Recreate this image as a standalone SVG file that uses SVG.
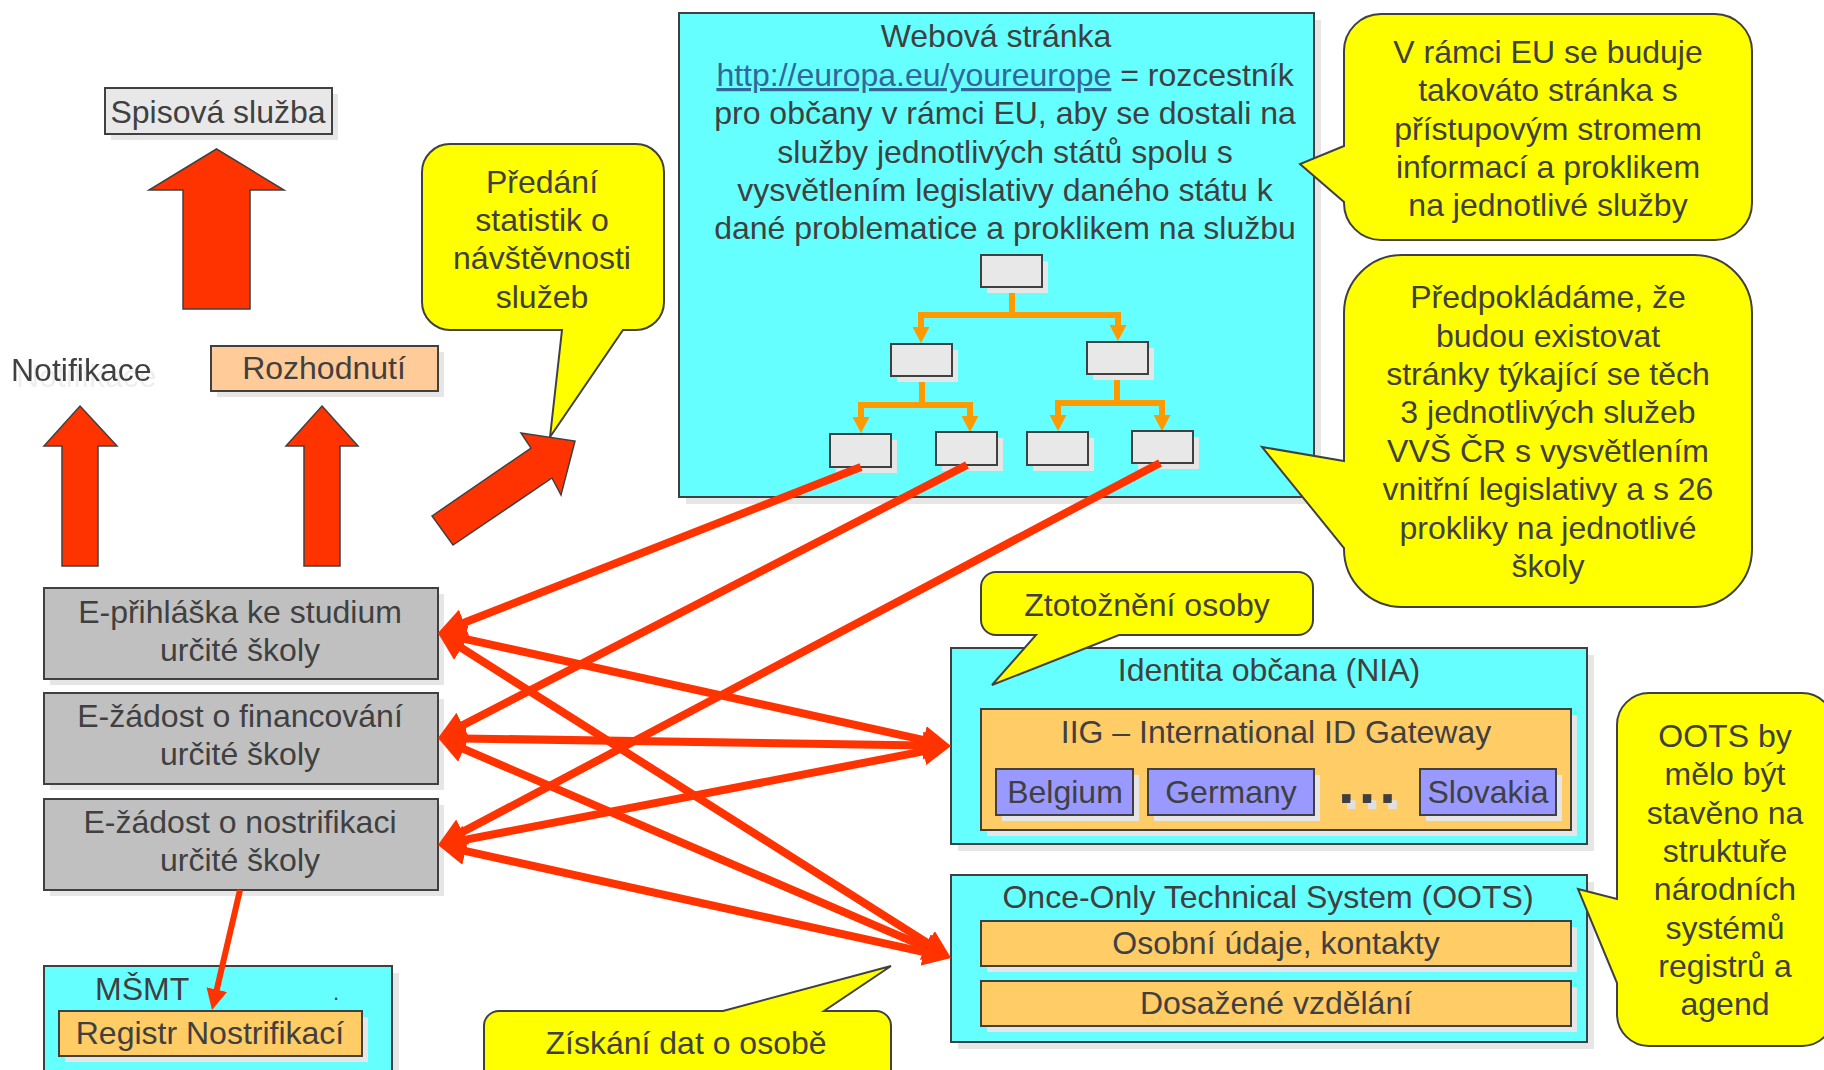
<svg xmlns="http://www.w3.org/2000/svg" width="1824" height="1070" viewBox="0 0 1824 1070">
<style>
.t{font-family:"Liberation Sans",Arial,sans-serif;font-size:32px;fill:#404040}
.c{text-anchor:middle}
.box{stroke:#404040;stroke-width:2}
.sh{fill:#E6E6E6}
.cyan{fill:#66FFFF}
.gray{fill:#C0C0C0}
.lg{fill:#E8E8E8}
.org{fill:#FFCC66}
.peach{fill:#FFCC99}
.blue{fill:#9999FF}
.call{fill:#FFFF00;stroke:#404040;stroke-width:2}
.barrow{fill:#FF3300;stroke:#404040;stroke-width:1.5}
.red{stroke:#FF3300;stroke-width:8;fill:none}
.or{stroke:#FF9900;stroke-width:6;fill:none}
.link{fill:#336699;text-decoration:underline}
</style>
<defs>
<marker id="rh" viewBox="0 0 28 28" markerUnits="strokeWidth" markerWidth="3.5" markerHeight="3.5" refX="18" refY="14" orient="auto-start-reverse">
<path d="M0,0 L28,14 L0,28 Z" fill="#FF3300"/>
</marker>
<marker id="oh" viewBox="0 0 16 17" markerUnits="userSpaceOnUse" markerWidth="16" markerHeight="17" refX="6" refY="8.5" orient="auto-start-reverse">
<path d="M0,0 L16,8.5 L0,17 Z" fill="#FF9900"/>
</marker>
<filter id="ds" x="-10%" y="-10%" width="130%" height="140%">
<feOffset in="SourceAlpha" dx="5" dy="6" result="o"/>
<feFlood flood-color="#E0E0E0"/>
<feComposite in2="o" operator="in" result="s"/>
<feMerge><feMergeNode in="s"/><feMergeNode in="SourceGraphic"/></feMerge>
</filter>
<filter id="ds2" x="-10%" y="-10%" width="130%" height="140%">
<feOffset in="SourceAlpha" dx="5" dy="6" result="o"/>
<feFlood flood-color="#EEEEEE"/>
<feComposite in2="o" operator="in" result="s"/>
<feMerge><feMergeNode in="s"/><feMergeNode in="SourceGraphic"/></feMerge>
</filter>
</defs>
<rect width="1824" height="1070" fill="#FFFFFF"/>

<g id="spisova">
<rect class="sh" x="111" y="94" width="227" height="46"/>
<rect class="box lg" x="105" y="88" width="227" height="46"/>
<text class="t c" x="218" y="123">Spisová služba</text>
</g>
<g id="arrow-spisova">
<polygon class="barrow" points="216.5,149 284,190 250,190 250,309 183,309 183,190 149,190"/>
</g>
<g id="notifikace">
<text class="t" x="11" y="381" filter="url(#ds2)">Notifikace</text>
</g>
<g id="rozhodnuti">
<rect class="sh" x="217" y="352" width="227" height="45"/>
<rect class="box peach" x="211" y="346" width="227" height="45"/>
<text class="t c" x="324" y="379">Rozhodnutí</text>
</g>
<g id="arrow-notifikace">
<polygon class="barrow" points="80,406 117,446 98,446 98,566 62,566 62,446 44,446"/>
</g>
<g id="arrow-rozhodnuti">
<polygon class="barrow" points="322,406 358,446 340,446 340,566 304,566 304,446 286,446"/>
</g>
<g id="arrow-statistiky">
<polygon class="barrow" points="432,516 531,448 521,433 575,441 561,495 552,478 453,545"/>
</g>

<g id="webova">
<rect class="sh" x="686" y="20" width="635" height="484"/>
<rect class="box cyan" x="679" y="13" width="635" height="484"/>
<text class="t c" x="996" y="47">Webová stránka</text>
<text class="t c" x="1005" y="86"><tspan class="link">http://europa.eu/youreurope</tspan> = rozcestník</text>
<text class="t c" x="1005" y="124">pro občany v rámci EU, aby se dostali na</text>
<text class="t c" x="1005" y="163">služby jednotlivých států spolu s</text>
<text class="t c" x="1005" y="201">vysvětlením legislativy daného státu k</text>
<text class="t c" x="1005" y="239">dané problematice a proklikem na službu</text>
</g>

<g id="tree-connectors">
<path class="or" d="M1012,287 V315"/>
<path class="or" d="M921,333 V315 H1118 V331" marker-start="url(#oh)" marker-end="url(#oh)"/>
<path class="or" d="M922,376 V405"/>
<path class="or" d="M861,423 V405 H970 V422" marker-start="url(#oh)" marker-end="url(#oh)"/>
<path class="or" d="M1117,374 V403"/>
<path class="or" d="M1058,421 V403 H1162 V421" marker-start="url(#oh)" marker-end="url(#oh)"/>
</g>
<g id="tree-top">
<rect class="sh" x="987" y="261" width="61" height="32"/>
<rect class="box lg" x="981" y="255" width="61" height="32"/>
</g>
<g id="tree-mid-left">
<rect class="sh" x="897" y="350" width="61" height="32"/>
<rect class="box lg" x="891" y="344" width="61" height="32"/>
</g>
<g id="tree-mid-right">
<rect class="sh" x="1093" y="348" width="61" height="32"/>
<rect class="box lg" x="1087" y="342" width="61" height="32"/>
</g>
<g id="tree-leaf-1">
<rect class="sh" x="836" y="440" width="61" height="33"/>
<rect class="box lg" x="830" y="434" width="61" height="33"/>
</g>
<g id="tree-leaf-2">
<rect class="sh" x="942" y="438" width="61" height="33"/>
<rect class="box lg" x="936" y="432" width="61" height="33"/>
</g>
<g id="tree-leaf-3">
<rect class="sh" x="1033" y="438" width="61" height="33"/>
<rect class="box lg" x="1027" y="432" width="61" height="33"/>
</g>
<g id="tree-leaf-4">
<rect class="sh" x="1138" y="437" width="61" height="32"/>
<rect class="box lg" x="1132" y="431" width="61" height="32"/>
</g>

<g id="callout-predani">
<path class="call" d="M450,144 H636 A28,28 0 0 1 664,172 V302 A28,28 0 0 1 636,330 H623 L550,437 L562,330 H450 A28,28 0 0 1 422,302 V172 A28,28 0 0 1 450,144 Z"/>
<text class="t c" x="542" y="193">Předání</text>
<text class="t c" x="542" y="231">statistik o</text>
<text class="t c" x="542" y="269">návštěvnosti</text>
<text class="t c" x="542" y="308">služeb</text>
</g>
<g id="callout-eu">
<path class="call" d="M1381,14 H1715 A37,37 0 0 1 1752,51 V203 A37,37 0 0 1 1715,240 H1381 A37,37 0 0 1 1344,203 V202 L1300,164 L1344,146 V51 A37,37 0 0 1 1381,14 Z"/>
<text class="t c" x="1548" y="63">V rámci EU se buduje</text>
<text class="t c" x="1548" y="101">takováto stránka s</text>
<text class="t c" x="1548" y="140">přístupovým stromem</text>
<text class="t c" x="1548" y="178">informací a proklikem</text>
<text class="t c" x="1548" y="216">na jednotlivé služby</text>
</g>
<g id="callout-predpoklad">
<path class="call" d="M1402,255 H1694 A58,58 0 0 1 1752,313 V549 A58,58 0 0 1 1694,607 H1402 A58,58 0 0 1 1344,549 V548 L1262,447 L1344,461 V313 A58,58 0 0 1 1402,255 Z"/>
<text class="t c" x="1548" y="308">Předpokládáme, že</text>
<text class="t c" x="1548" y="347">budou existovat</text>
<text class="t c" x="1548" y="385">stránky týkající se těch</text>
<text class="t c" x="1548" y="423">3 jednotlivých služeb</text>
<text class="t c" x="1548" y="462">VVŠ ČR s vysvětlením</text>
<text class="t c" x="1548" y="500">vnitřní legislativy a s 26</text>
<text class="t c" x="1548" y="539">prokliky na jednotlivé</text>
<text class="t c" x="1548" y="577">školy</text>
</g>

<g id="e-prihlaska">
<rect class="sh" x="50" y="594" width="394" height="91"/>
<rect class="box gray" x="44" y="588" width="394" height="91"/>
<text class="t c" x="240" y="623">E-přihláška ke studium</text>
<text class="t c" x="240" y="661">určité školy</text>
</g>
<g id="e-zadost-financovani">
<rect class="sh" x="50" y="699" width="394" height="91"/>
<rect class="box gray" x="44" y="693" width="394" height="91"/>
<text class="t c" x="240" y="727">E-žádost o financování</text>
<text class="t c" x="240" y="765">určité školy</text>
</g>
<g id="e-zadost-nostrifikace">
<rect class="sh" x="50" y="805" width="394" height="91"/>
<rect class="box gray" x="44" y="799" width="394" height="91"/>
<text class="t c" x="240" y="833">E-žádost o nostrifikaci</text>
<text class="t c" x="240" y="871">určité školy</text>
</g>

<g id="msmt">
<rect class="sh" x="51" y="973" width="348" height="120"/>
<rect class="box cyan" x="44" y="966" width="348" height="120"/>
<text class="t" x="95" y="1000">MŠMT</text>
<text class="t" x="333" y="1000" style="font-size:22px">.</text>
</g>
<g id="registr">
<rect class="sh" x="65" y="1017" width="303" height="45"/>
<rect class="box org" x="59" y="1011" width="303" height="45"/>
<text class="t c" x="210" y="1044">Registr Nostrifikací</text>
</g>

<g id="nia">
<rect class="sh" x="958" y="655" width="636" height="196"/>
<rect class="box cyan" x="951" y="648" width="636" height="196"/>
<text class="t c" x="1269" y="681">Identita občana (NIA)</text>
</g>
<g id="iig">
<rect class="sh" x="987" y="715" width="590" height="121"/>
<rect class="box org" x="981" y="709" width="590" height="121"/>
<text class="t c" x="1276" y="743">IIG – International ID Gateway</text>
</g>
<g id="belgium">
<rect class="sh" x="1002" y="775" width="137" height="46"/>
<rect class="box blue" x="996" y="769" width="137" height="46"/>
<text class="t c" x="1065" y="803">Belgium</text>
</g>
<g id="germany">
<rect class="sh" x="1154" y="775" width="166" height="46"/>
<rect class="box blue" x="1148" y="769" width="166" height="46"/>
<text class="t c" x="1231" y="803">Germany</text>
</g>
<g id="dots">
<text class="t" x="1338" y="803" style="font-size:60px;font-weight:bold;letter-spacing:4px" filter="url(#ds)">...</text>
</g>
<g id="slovakia">
<rect class="sh" x="1426" y="775" width="136" height="46"/>
<rect class="box blue" x="1420" y="769" width="136" height="46"/>
<text class="t c" x="1488" y="803">Slovakia</text>
</g>

<g id="oots">
<rect class="sh" x="958" y="882" width="636" height="167"/>
<rect class="box cyan" x="951" y="875" width="636" height="167"/>
<text class="t c" x="1268" y="908">Once-Only Technical System (OOTS)</text>
</g>
<g id="osobni-udaje">
<rect class="sh" x="987" y="927" width="590" height="45"/>
<rect class="box org" x="981" y="921" width="590" height="45"/>
<text class="t c" x="1276" y="954">Osobní údaje, kontakty</text>
</g>
<g id="dosazene-vzdelani">
<rect class="sh" x="987" y="987" width="590" height="45"/>
<rect class="box org" x="981" y="981" width="590" height="45"/>
<text class="t c" x="1276" y="1014">Dosažené vzdělání</text>
</g>

<g id="callout-ztotozneni">
<path class="call" d="M996,572 H1298 A15,15 0 0 1 1313,587 V620 A15,15 0 0 1 1298,635 H1119 L992,685 L1036,635 H996 A15,15 0 0 1 981,620 V587 A15,15 0 0 1 996,572 Z"/>
<text class="t c" x="1147" y="616">Ztotožnění osoby</text>
</g>
<g id="callout-oots">
<path class="call" d="M1649,693 H1802 A32,32 0 0 1 1834,725 V1014 A32,32 0 0 1 1802,1046 H1649 A32,32 0 0 1 1617,1014 V983 L1578,889 L1617,899 V725 A32,32 0 0 1 1649,693 Z"/>
<text class="t c" x="1725" y="747">OOTS by</text>
<text class="t c" x="1725" y="785">mělo být</text>
<text class="t c" x="1725" y="824">stavěno na</text>
<text class="t c" x="1725" y="862">struktuře</text>
<text class="t c" x="1725" y="900">národních</text>
<text class="t c" x="1725" y="939">systémů</text>
<text class="t c" x="1725" y="977">registrů a</text>
<text class="t c" x="1725" y="1015">agend</text>
</g>
<g id="callout-ziskani">
<path class="call" d="M499,1011 H723 L891,966 L824,1011 H876 A15,15 0 0 1 891,1026 V1090 H484 V1026 A15,15 0 0 1 499,1011 Z"/>
<text class="t c" x="686" y="1054">Získání dat o osobě</text>
</g>

<g id="connectors">
<line class="red" x1="861" y1="467" x2="447.3" y2="629.3" marker-end="url(#rh)"/>
<line class="red" x1="967" y1="465" x2="446.9" y2="733.4" marker-end="url(#rh)"/>
<line class="red" x1="1160" y1="463" x2="446.8" y2="840.3" marker-end="url(#rh)"/>
<line class="red" x1="447.8" y1="635.2" x2="941.2" y2="743.8" marker-start="url(#rh)" marker-end="url(#rh)"/>
<line class="red" x1="446.4" y1="638.4" x2="942.6" y2="952.6" marker-start="url(#rh)" marker-end="url(#rh)"/>
<line class="red" x1="448" y1="738.2" x2="941" y2="745.8" marker-start="url(#rh)" marker-end="url(#rh)"/>
<line class="red" x1="447.2" y1="741.9" x2="941.8" y2="954.1" marker-start="url(#rh)" marker-end="url(#rh)"/>
<line class="red" x1="447.8" y1="843.1" x2="941.2" y2="747.9" marker-start="url(#rh)" marker-end="url(#rh)"/>
<line class="red" x1="447.8" y1="847.2" x2="941.2" y2="955.8" marker-start="url(#rh)" marker-end="url(#rh)"/>
<line class="red" style="stroke-width:6" x1="240" y1="890" x2="213.7" y2="1002.7" marker-end="url(#rh)"/>
</g>
</svg>
